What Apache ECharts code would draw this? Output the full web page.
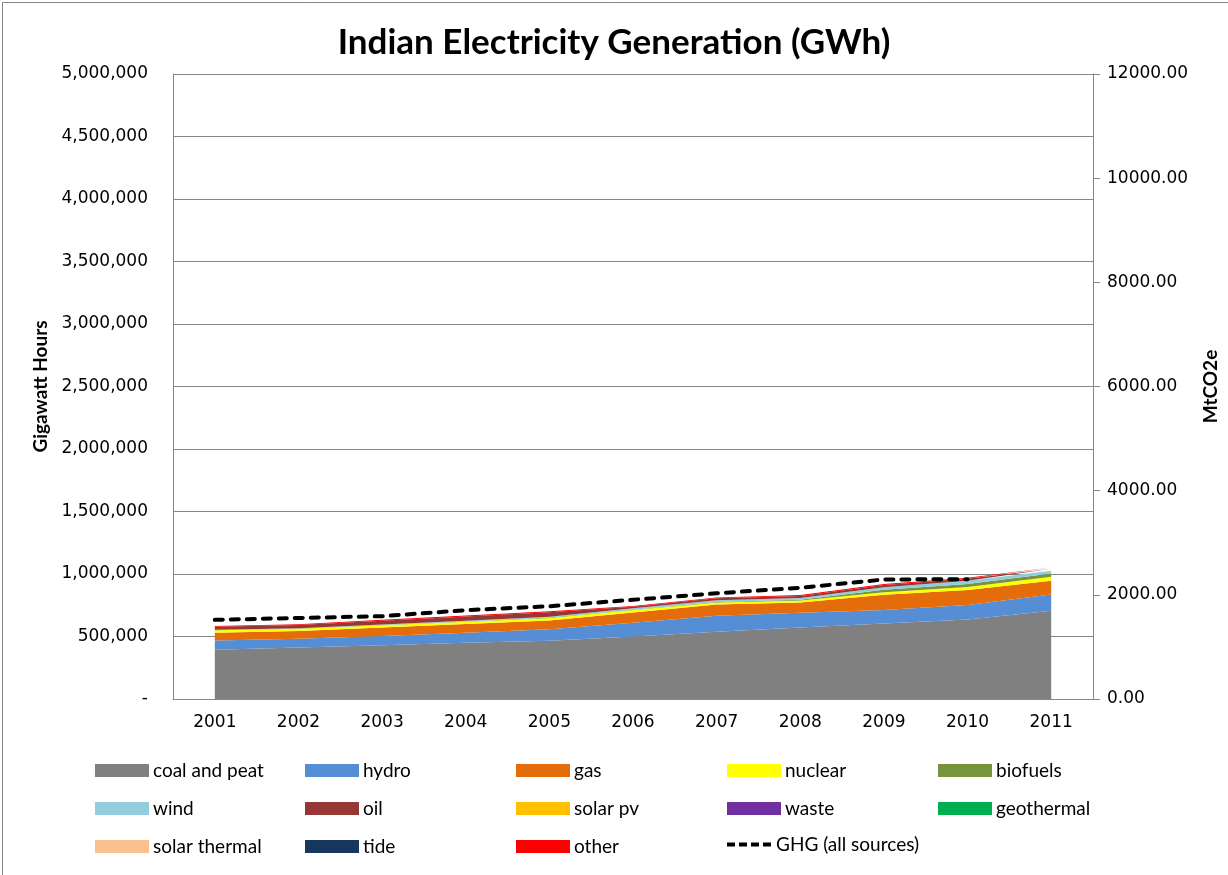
<!DOCTYPE html>
<html>
<head>
<meta charset="utf-8">
<script src="https://cdn.jsdelivr.net/npm/echarts@6/dist/echarts.min.js"></script>
<style>
html,body{margin:0;padding:0;background:#fff;}
#chart{width:1228px;height:875px;}
</style>
</head>
<body>
<div id="chart"></div>
<script>
const years = ['2001','2002','2003','2004','2005','2006','2007','2008','2009','2010','2011'];
const coalAndPeat  = [394000,413000,430000,450000,466000,500000,538000,573000,605000,637000,706000];
const hydro        = [75000,70000,74000,80000,93000,110000,128000,117000,107000,115000,130000];
const gas          = [62000,62000,69000,70000,70000,83000,90000,83000,122000,120000,110000];
const nuclear      = [19000,18000,18000,18000,20000,19000,17000,16000,20000,24000,32000];
const biofuels     = [1500,1800,2000,2500,3000,3000,4000,5000,20000,25000,27000];
const wind         = [1700,2000,3500,5000,6500,11000,13000,14000,20000,25000,22000];
const oil          = [24000,26000,30000,35000,35000,12000,16000,17000,19000,16000,16000];
const solarPv      = [0,0,0,0,0,0,0,0,0,100,1000];
const waste        = [0,0,0,0,0,0,0,0,0,0,0];
const geothermal   = [0,0,0,0,0,0,0,0,0,0,0];
const solarThermal = [0,0,0,0,0,0,0,0,0,0,0];
const tide         = [0,0,0,0,0,0,0,0,0,0,0];
const other        = [6000,6000,7000,8000,9000,6000,7000,7000,8000,8000,8000];
const ghg          = [1520,1555,1590,1705,1780,1905,2030,2135,2295,2300,null];

const leftTicks = {min:0, max:5000000, interval:500000};
const rightTicks = {min:0, max:12000, interval:2000};

const areaDefs = [
  ['coal and peat', coalAndPeat, '#808080'],
  ['hydro', hydro, '#558ED5'],
  ['gas', gas, '#E46C0A'],
  ['nuclear', nuclear, '#FFFF00'],
  ['biofuels', biofuels, '#77933C'],
  ['wind', wind, '#93CDDD'],
  ['oil', oil, '#953735'],
  ['solar pv', solarPv, '#FFC000'],
  ['waste', waste, '#7030A0'],
  ['geothermal', geothermal, '#00B050'],
  ['solar thermal', solarThermal, '#FAC090'],
  ['tide', tide, '#17375E'],
  ['other', other, '#FF0000']
];

const chart = echarts.init(document.getElementById('chart'), null, {renderer:'canvas'});
const labelFont = 'DejaVu Sans';
const textFont = 'Lato';

const series = areaDefs.map(([name, data, color]) => ({
  name, type:'line', stack:'total', data,
  symbol:'none', showSymbol:false,
  lineStyle:{width:0, color},
  itemStyle:{color},
  areaStyle:{color, opacity:1},
  emphasis:{disabled:true},
  silent:true
}));
series.push({
  name:'GHG (all sources)', type:'line', yAxisIndex:1, data:ghg,
  symbol:'none', showSymbol:false,
  lineStyle:{color:'#000', width:4, type:[8,8], cap:'round'},
  itemStyle:{color:'#000'},
  emphasis:{disabled:true}, silent:true, z:5
});

const colLefts = [95, 305, 516, 727, 938];
const legends = [];
for (let c = 0; c < 5; c++) {
  const items = [];
  for (let r = 0; r < 3; r++) {
    const idx = r*5 + c;
    if (idx < areaDefs.length) items.push({name: areaDefs[idx][0], icon:'rect'});
  }
  legends.push({
    orient:'vertical', left: colLefts[c], top: 761, padding:0,
    itemWidth:54, itemHeight:13, itemGap:19,
    selectedMode:false,
    textStyle:{fontFamily:textFont, fontSize:19, lineHeight:18, color:'#000', padding:[0,0,0,-1]},
    data: items
  });
}
legends.push({
  orient:'vertical', left: 727, top: 835, padding:0,
  itemWidth:44, itemHeight:4, selectedMode:false,
  icon:'path://M0,0h8v4h-8z M12,0h8v4h-8z M24,0h8v4h-8z M36,0h8v4h-8z',
  textStyle:{fontFamily:textFont, fontSize:19, lineHeight:18, color:'#000'},
  data:[{name:'GHG (all sources)', itemStyle:{color:'#000'}}]
});

chart.setOption({
  backgroundColor:'#fff',
  animation:false,
  title:{
    text:'Indian Electricity Generation (GWh)', left:'center', top:22, padding:0,
    textStyle:{fontFamily:textFont, fontWeight:'bold', fontSize:35, lineHeight:42, color:'#000'}
  },
  grid:{left:173, right:131, top:74, bottom:176, containLabel:false},
  legend: legends,
  xAxis:{
    type:'category', data:years, boundaryGap:true,
    axisLine:{show:true, lineStyle:{color:'#868686', width:1}},
    axisTick:{show:false},
    axisLabel:{fontFamily:labelFont, fontSize:17, color:'#000', margin:15}
  },
  yAxis:[
    {
      type:'value', min:leftTicks.min, max:leftTicks.max, interval:leftTicks.interval,
      name:'Gigawatt Hours', nameLocation:'middle', nameGap:122, nameRotate:90,
      nameTextStyle:{fontFamily:textFont, fontWeight:'bold', fontSize:19, color:'#000'},
      axisLine:{show:true, lineStyle:{color:'#868686'}},
      axisTick:{show:false},
      splitLine:{show:true, lineStyle:{color:'#868686', width:1}},
      axisLabel:{fontFamily:labelFont, fontSize:17, color:'#000', margin:25,
        formatter: v => v === 0 ? '-' : v.toLocaleString('en-US')}
    },
    {
      type:'value', position:'right', min:rightTicks.min, max:rightTicks.max, interval:rightTicks.interval,
      name:'MtCO2e', nameLocation:'middle', nameGap:108, nameRotate:90,
      nameTextStyle:{fontFamily:textFont, fontWeight:'bold', fontSize:19, color:'#000'},
      axisLine:{show:true, lineStyle:{color:'#868686'}},
      axisTick:{show:true, inside:false, length:7, lineStyle:{color:'#868686'}},
      splitLine:{show:false},
      axisLabel:{fontFamily:labelFont, fontSize:17, color:'#000', margin:14,
        formatter: v => v.toFixed(2)}
    }
  ],
  series,
  graphic:[{
    type:'rect', left:0, top:0, silent:true, z:-1,
    shape:{x:0.5, y:0.5, width:1227, height:874},
    style:{fill:null, stroke:'#868686', lineWidth:1}
  }]
});
</script>
</body>
</html>
